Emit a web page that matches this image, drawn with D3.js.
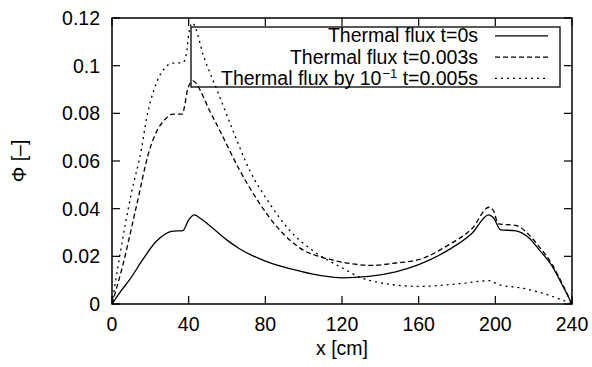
<!DOCTYPE html>
<html>
<head>
<meta charset="utf-8">
<script src="https://cdn.jsdelivr.net/npm/d3@7"></script>
<style>
    body { margin: 0; background: #fff; }
    text { font-family: "Liberation Sans", Arial, Helvetica, sans-serif; }
</style>
</head>
<body>
<div id="canvas"></div>
<script>
// global const
const width = 592, height = 367;
const margin = { left: 112, right: 20, top: 18, bottom: 63 };
const fontSize = 19.5
const tickLen = 8

// data
const xTicks = [0, 40, 80, 120, 160, 200, 240]
const yTicks = [0, 0.02, 0.04, 0.06, 0.08, 0.1, 0.12]
const yTickLabels = ["0", "0.02", "0.04", "0.06", "0.08", "0.1", "0.12"]

// Thermal flux t=0s
const fluxT0X = [0, 5, 9.2, 16, 23, 28, 31, 37, 40, 43, 46, 52, 60, 66.5, 80, 98, 110, 120, 134, 148, 160, 175.8, 188, 196.5, 199, 202.8, 210, 217.6, 222.8, 229.7, 234.9, 240]
const fluxT0 = [0, 0.0058, 0.0102, 0.0186, 0.0262, 0.0295, 0.0305, 0.0308, 0.0353, 0.0374, 0.0360, 0.0322, 0.0268, 0.0232, 0.0180, 0.0138, 0.0118, 0.0110, 0.0116, 0.0135, 0.0165, 0.0228, 0.0298, 0.0374, 0.0362, 0.0311, 0.0308, 0.0277, 0.0228, 0.0158, 0.0080, 0]

// Thermal flux t=0.003s
const fluxT3X = [0, 5.7, 12.7, 19.6, 24, 27.4, 31.6, 36.8, 37.8, 39.6, 42.2, 44, 45.8, 51, 56.1, 66.5, 76.9, 87.3, 100, 110, 118.6, 135.8, 148, 160, 175.8, 188, 196.7, 199, 201.6, 210.6, 217.6, 222.8, 229.7, 234.9, 240]
const fluxT3 = [0, 0.0165, 0.0409, 0.0647, 0.0735, 0.0772, 0.0797, 0.0797, 0.0828, 0.0905, 0.0936, 0.0925, 0.0900, 0.0810, 0.0730, 0.0563, 0.0423, 0.0312, 0.0225, 0.0195, 0.0178, 0.0162, 0.0172, 0.0186, 0.0249, 0.0318, 0.0406, 0.0392, 0.0336, 0.0330, 0.0290, 0.0241, 0.0165, 0.0085, 0]

// Thermal flux by 10^-1 t=0.005s
const fluxT5X = [0, 4, 10.1, 15.3, 17.9, 23.1, 28.3, 31, 37, 38.8, 40.1, 42, 43.5, 47.4, 52.6, 54.4, 63, 71.7, 82.1, 91.7, 106.5, 118.6, 134, 160, 184.5, 196.7, 201.9, 214, 229.7, 240]
const fluxT5 = [0, 0.0200, 0.0465, 0.0647, 0.0772, 0.0926, 0.0996, 0.1010, 0.1013, 0.1050, 0.1135, 0.1180, 0.1160, 0.1050, 0.0940, 0.0905, 0.0730, 0.0563, 0.0423, 0.0318, 0.0214, 0.0158, 0.0099, 0.0074, 0.0088, 0.0098, 0.0081, 0.0067, 0.0032, 0]

const series = [
    { name: "Thermal flux t=0s", x: fluxT0X, y: fluxT0, dash: null },
    { name: "Thermal flux t=0.003s", x: fluxT3X, y: fluxT3, dash: "5,3" },
    { name: "Thermal flux by 10", sup: "\u22121", after: " t=0.005s", x: fluxT5X, y: fluxT5, dash: "2,4" }
]

// setup canvas with the main svg
var canvas = d3.select("#canvas")
    .append("svg")
    .attr("width", width)
    .attr("height", height)
    .style("background-color", "white")

var xScale = d3.scaleLinear()
    .domain([0, 240])
    .range([margin.left, width - margin.right])

var yScale = d3.scaleLinear()
    .domain([0, 0.12])
    .range([height - margin.bottom, margin.top])

const x0 = xScale(0), x1 = xScale(240), y0 = yScale(0), y1 = yScale(0.12)

// clip for the curves
canvas.append("defs").append("clipPath")
    .attr("id", "plot-clip")
    .append("rect")
    .attr("x", x0).attr("y", y1)
    .attr("width", x1 - x0).attr("height", y0 - y1)

// ticks, inside and mirrored (gnuplot style)
const drawTicks = () => {
    xTicks.forEach(t => {
        canvas.append("line")
            .attr("x1", xScale(t)).attr("x2", xScale(t))
            .attr("y1", y0).attr("y2", y0 - tickLen)
            .attr("stroke", "black").attr("stroke-width", 1.2)
        canvas.append("line")
            .attr("x1", xScale(t)).attr("x2", xScale(t))
            .attr("y1", y1).attr("y2", y1 + tickLen)
            .attr("stroke", "black").attr("stroke-width", 1.2)
        canvas.append("text")
            .attr("x", xScale(t))
            .attr("y", y0 + 27)
            .attr("text-anchor", "middle")
            .attr("font-size", fontSize)
            .text(t)
    })
    yTicks.forEach((t, i) => {
        canvas.append("line")
            .attr("x1", x0).attr("x2", x0 + tickLen)
            .attr("y1", yScale(t)).attr("y2", yScale(t))
            .attr("stroke", "black").attr("stroke-width", 1.2)
        canvas.append("line")
            .attr("x1", x1).attr("x2", x1 - tickLen)
            .attr("y1", yScale(t)).attr("y2", yScale(t))
            .attr("stroke", "black").attr("stroke-width", 1.2)
        canvas.append("text")
            .attr("x", x0 - 12)
            .attr("y", yScale(t) + 7)
            .attr("text-anchor", "end")
            .attr("font-size", fontSize)
            .text(yTickLabels[i])
    })
}

const drawLabels = () => {
    canvas.append("text")
        .attr("x", (x0 + x1) / 2)
        .attr("y", 355)
        .attr("text-anchor", "middle")
        .attr("font-size", fontSize)
        .text("x [cm]")

    canvas.append("text")
        .attr("transform", `translate(26, 161) rotate(-90)`)
        .attr("text-anchor", "middle")
        .attr("font-size", fontSize)
        .text("\u03A6 [\u2013]")
}

const drawCurves = () => {
    var line = d3.line()
        .x(d => xScale(d[0]))
        .y(d => yScale(d[1]))
        .curve(d3.curveMonotoneX)

    series.forEach(s => {
        canvas.append("path")
            .datum(s.x.map((v, i) => [v, s.y[i]]))
            .attr("d", line)
            .attr("fill", "none")
            .attr("stroke", "black")
            .attr("stroke-width", 1.3)
            .attr("stroke-dasharray", s.dash)
            .attr("clip-path", "url(#plot-clip)")
    })
}

const drawLegend = () => {
    var box = { x: 191, y: 27, w: 369, h: 60 }
    canvas.append("rect")
        .attr("x", box.x).attr("y", box.y)
        .attr("width", box.w).attr("height", box.h)
        .attr("fill", "none")
        .attr("stroke", "black")
        .attr("stroke-width", 1.3)

    series.forEach((s, i) => {
        var baseline = 42.3 + i * 21.3
        var t = canvas.append("text")
            .attr("x", 478)
            .attr("y", baseline)
            .attr("text-anchor", "end")
            .attr("font-size", fontSize)
        t.append("tspan").text(s.name)
        if (s.sup) {
            // superscript exponent, slightly spaced like gnuplot's enhanced text
            t.append("tspan")
                .attr("dx", 1)
                .attr("dy", -6.5)
                .attr("font-size", 13)
                .text(s.sup)
            t.append("tspan")
                .attr("dy", 6.5)
                .text(s.after)
        }
        canvas.append("line")
            .attr("x1", 495).attr("x2", 548)
            .attr("y1", baseline - 6.5).attr("y2", baseline - 6.5)
            .attr("stroke", "black")
            .attr("stroke-width", 1.3)
            .attr("stroke-dasharray", s.dash)
    })
}

const drawFrame = () => {
    canvas.append("rect")
        .attr("x", x0).attr("y", y1)
        .attr("width", x1 - x0).attr("height", y0 - y1)
        .attr("fill", "none")
        .attr("stroke", "black")
        .attr("stroke-width", 1.5)
}

drawTicks();
drawLabels();
drawCurves();
drawLegend();
drawFrame();
</script>
</body>
</html>
